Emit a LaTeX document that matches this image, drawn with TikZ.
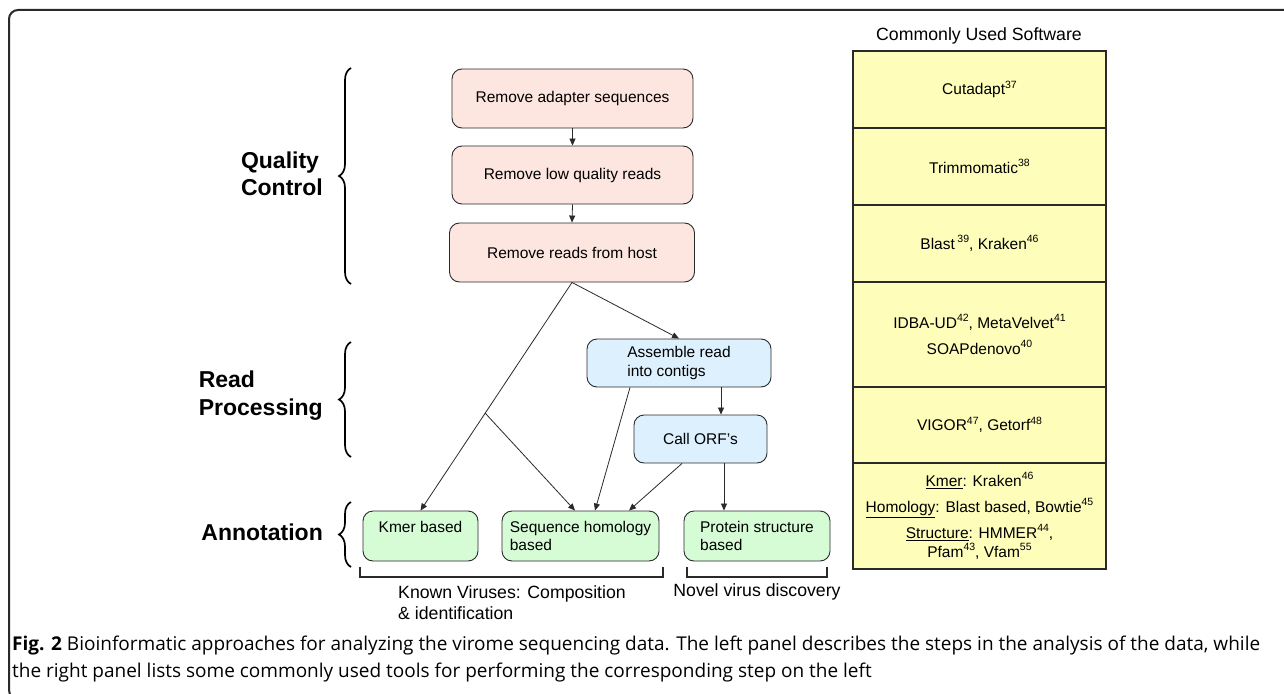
\documentclass[tikz,border=0pt]{standalone}
\usepackage{fontspec}
\setmainfont{Liberation Sans}
\newfontfamily\capfont{Open Sans}
\usetikzlibrary{arrows.meta,decorations.pathreplacing,calc}
\definecolor{pinkfill}{HTML}{FDE5E0}
\definecolor{bluefill}{HTML}{DDF0FD}
\definecolor{greenfill}{HTML}{D5FCD5}
\definecolor{yellowfill}{HTML}{FEFDBA}
\definecolor{edgecol}{HTML}{2A2A2A}
\newcommand\supnum[1]{\raisebox{0.42em}{\fontsize{10.5}{12}\selectfont #1}}
\begin{document}
\begin{tikzpicture}[x=1pt,y=-1pt,
  box/.style={draw=edgecol, line width=0.9pt, rounded corners=10pt, inner sep=0pt,
    font=\fontsize{15.5}{18.5}\selectfont},
  qcbox/.style={box, fill=pinkfill, align=center},
  rpbox/.style={box, fill=bluefill, align=left},
  anbox/.style={box, fill=greenfill, align=left},
  row/.style={draw=edgecol, line width=1.2pt, fill=yellowfill, minimum width=253pt,
    inner sep=0pt, align=center, font=\fontsize{15.5}{19}\selectfont},
  lab/.style={anchor=east, align=left, inner sep=0pt, font=\bfseries\fontsize{23}{27.5}\selectfont},
  ln/.style={draw=edgecol, line width=0.8pt},
  arr/.style={ln, -{Triangle[length=7pt,width=6pt]}},
  brc/.style={decorate, decoration={brace, amplitude=12pt}, line width=1.7pt},
  bracket/.style={draw=edgecol, line width=1.2pt},
  note/.style={inner sep=0pt, font=\fontsize{17.7}{21}\selectfont}]
\useasboundingbox (0,0) rectangle (1284,693);
\fill[white] (0,0) rectangle (1284,693);
% outer frame
\draw[line width=2pt, draw=edgecol, rounded corners=9pt] (1300,10) -- (9,10) -- (9,699) -- (1300,699);

% left labels and braces
\node[lab] (qclab) at (323,174) {Quality\\Control};
\node[lab] (rplab) at (323,395.5) {Read\\Processing};
\node[lab] (anlab) at (323,532) {Annotation};
\draw[brc] (351,284) -- (351,68);
\draw[brc] (351,457) -- (351,342);
\draw[brc] (351,567) -- (351,502);

% quality control boxes
\node[qcbox, minimum width=241pt, minimum height=59pt] (qc1) at (572.5,98.5) {Remove adapter sequences};
\node[qcbox, minimum width=241pt, minimum height=58pt] (qc2) at (572.5,175) {Remove low quality reads};
\node[qcbox, minimum width=245pt, minimum height=59pt] (qc3) at (572,252.5) {Remove reads from host};

% read processing boxes
\node[rpbox, minimum width=184pt, minimum height=48pt] (asm) at (679,363) {Assemble read\\into contigs};
\node[rpbox, minimum width=133pt, minimum height=48pt] (orf) at (700.5,439) {Call ORF's};

% annotation boxes
\node[anbox, align=center, minimum width=115pt, minimum height=50pt] (kmer) at (420.5,536) {Kmer based\\\mbox{}};
\node[anbox, minimum width=157pt, minimum height=50pt] (seq) at (580.5,536) {Sequence homology\\based};
\node[anbox, minimum width=146pt, minimum height=50pt] (prot) at (757,536) {Protein structure\\based};

% connectors
\draw[arr] (qc1.south) -- (qc2.north);
\draw[arr] (qc2.south) -- (qc3.north);
\coordinate (j) at ($(qc3.south)!0.573!(kmer.north)$);
\draw[arr] (qc3.south) -- (kmer.north);
\draw[arr] (j) -- ([xshift=-5.5pt]seq.north);
\draw[arr] (qc3.south) -- (asm.north);
\draw[arr] ([xshift=-49pt]asm.south) -- ([xshift=14.5pt]seq.north);
\draw[arr] ([xshift=42pt]asm.south) -- ([xshift=42pt]asm.south |- orf.north);
\draw[arr] ([xshift=-18.5pt]orf.south) -- ([xshift=48.5pt]seq.north);
\draw[arr] ([xshift=23.5pt]orf.south) -- ([xshift=23.5pt]orf.south |- prot.north);

% brackets and their notes
\draw[bracket] (360,567) -- (360,577) -- (663,577) -- (663,567);
\draw[bracket] (687,567) -- (687,577) -- (827,577) -- (827,567);
\node[note, anchor=west, align=left] (known) at (398,602.5) {Known Viruses: Composition\\\& identification};
\node[note] (novel) at (757,592) {Novel virus discovery};

% software table
\node[note] (title) at (979,36) {Commonly Used Software};
\node[row, minimum height=77pt] (r1) at (979.5,89.5) {Cutadapt\supnum{37}};
\node[row, minimum height=77pt] (r2) at (979.5,166.5) {Trimmomatic\supnum{38}};
\node[row, minimum height=77pt] (r3) at (979.5,243.5) {Blast\,\supnum{39}, Kraken\supnum{46}};
\node[row, minimum height=105pt] (r4) at (979.5,334.5) {IDBA-UD\supnum{42}, MetaVelvet\supnum{41}\\[7pt]SOAPdenovo\supnum{40}};
\node[row, minimum height=76pt] (r5) at (979.5,425) {VIGOR\supnum{47}, Getorf\supnum{48}};
\node[row, minimum height=106pt] (r6) at (979.5,516) {\underline{Kmer}: Kraken\supnum{46}\\[7pt]\underline{Homology}: Blast based, Bowtie\supnum{45}\\[7pt]\underline{Structure}: HMMER\supnum{44},\\Pfam\supnum{43}, Vfam\supnum{55}};

% caption
\node[anchor=west, align=left, inner sep=0pt, font=\capfont\fontsize{19}{27}\selectfont] (cap) at (12,659)
 {{\bfseries Fig. 2} Bioinformatic approaches for analyzing the virome sequencing data. The left panel describes the steps in the analysis of the data, while\\the right panel lists some commonly used tools for performing the corresponding step on the left};
\end{tikzpicture}
\end{document}
